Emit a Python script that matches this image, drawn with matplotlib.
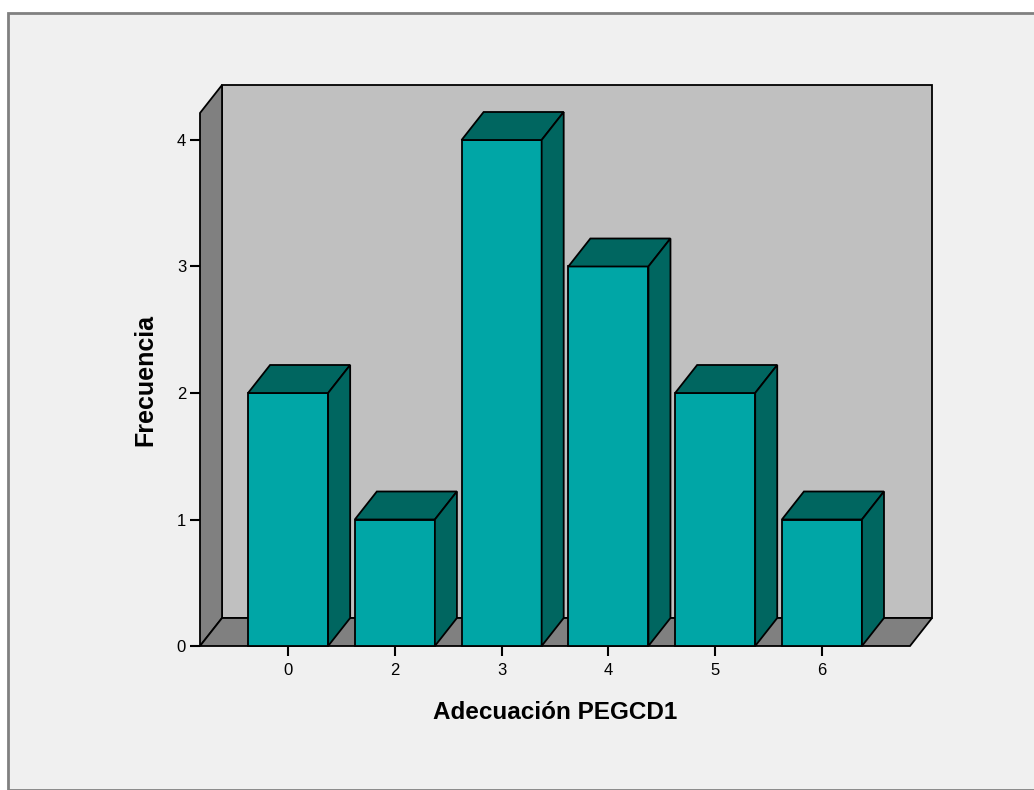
import numpy as np
import matplotlib
matplotlib.use('Agg')
import matplotlib.pyplot as plt
from matplotlib.patches import Polygon, Rectangle

# frecuencias por categoria
categorias = ['0', '2', '3', '4', '5', '6']
frecuencias = [2, 1, 4, 3, 2, 1]
yticks = [0, 1, 2, 3, 4]

colorFrente = '#00a6a6'
colorLado = '#006660'
colorFondo = '#c0c0c0'
colorPared = '#808080'

W, H = 1034, 790
fig = plt.figure(figsize=(W/100, H/100), dpi=100)
fig.patch.set_facecolor('white')

# marco exterior del grafico (detras de los ejes)
marco = Rectangle((8/W, 0), 1.0, 1 - 13/H, transform=fig.transFigure,
                  facecolor='#f0f0f0', edgecolor='#808080', linewidth=2, zorder=-10)
fig.add_artist(marco)

# plano frontal: x 200..910 px, y 113..646 px
ax = fig.add_axes([200/W, (H-646)/H, 710/W, 533/H])
ax.set_facecolor('none')
x = np.arange(len(categorias))
xMin, xMax = -0.825, len(categorias) - 1 + 0.825
yMax = 533/126.5
ax.set_xlim(xMin, xMax)
ax.set_ylim(0, yMax)

# profundidad en unidades de datos
dx = 22/106.6
dy = 28/126.5
anchoBarra = 0.75

def cara(pts, color, z):
    ax.add_patch(Polygon(pts, closed=True, facecolor=color, edgecolor='black',
                         linewidth=1.3, clip_on=False, zorder=z, joinstyle='miter'))

# paredes: fondo, izquierda y suelo
cara([(xMin+dx, dy), (xMax+dx, dy), (xMax+dx, yMax+dy), (xMin+dx, yMax+dy)], colorFondo, 1)
cara([(xMin, 0), (xMin+dx, dy), (xMin+dx, yMax+dy), (xMin, yMax)], colorPared, 2)
cara([(xMin, 0), (xMax, 0), (xMax+dx, dy), (xMin+dx, dy)], colorPared, 2)

for i, f in zip(x, frecuencias):
    x0 = i - anchoBarra/2
    x1 = i + anchoBarra/2
    cara([(x0, 0), (x1, 0), (x1, f), (x0, f)], colorFrente, 3)
    cara([(x0, f), (x1, f), (x1+dx, f+dy), (x0+dx, f+dy)], colorLado, 3)
    cara([(x1, 0), (x1+dx, dy), (x1+dx, f+dy), (x1, f)], colorLado, 3)

for s in ax.spines.values():
    s.set_visible(False)

ax.set_xticks(x)
ax.set_xticklabels(categorias)
ax.set_yticks(yticks)
ax.tick_params(axis='both', length=7, width=1.5, color='black',
               labelsize=12, direction='out')
ax.tick_params(axis='x', pad=5)
ax.tick_params(axis='y', pad=3)
for t in ax.get_xticklabels() + ax.get_yticklabels():
    t.set_fontfamily('Liberation Sans')

ax.set_xlabel('Adecuación PEGCD1', fontsize=17.5, fontweight='bold',
              fontfamily='Liberation Sans', labelpad=17)
ax.set_ylabel('Frecuencia', fontsize=18, fontweight='bold',
              fontfamily='Liberation Sans', labelpad=14)

fig.savefig('out.png', dpi=100, facecolor=fig.get_facecolor())
